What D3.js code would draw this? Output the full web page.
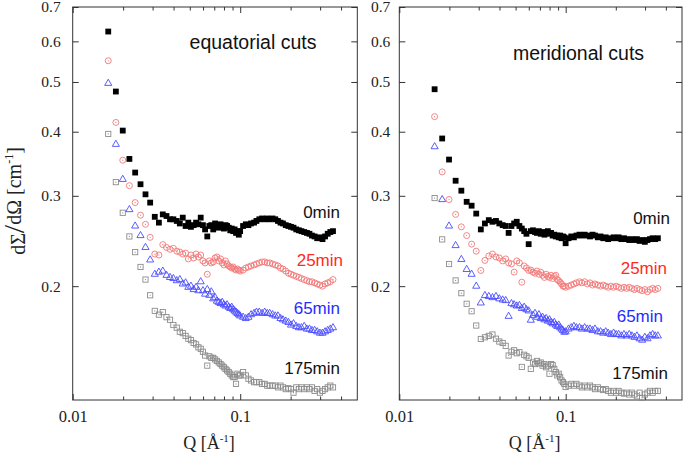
<!DOCTYPE html>
<html>
<head>
<meta charset="utf-8">
<script src="https://d3js.org/d3.v7.min.js"></script>
<style>
  body { margin: 0; background: #fff; }
  svg { display: block; background: #fff; }
</style>
</head>
<body>
<svg id="chart" width="685" height="461"></svg>
<script>
// shared Q grid (1/Angstrom)
const qValues = [
  0.0163, 0.0181, 0.0199, 0.0218, 0.0236, 0.0254, 0.0272, 0.0290, 0.0309, 0.0327,
  0.0345, 0.0363, 0.0381, 0.0399, 0.0418, 0.0436, 0.0454, 0.0472, 0.0490, 0.0508,
  0.0527, 0.0545, 0.0563, 0.0581, 0.0599, 0.0617, 0.0636, 0.0654, 0.0672, 0.0690,
  0.0708, 0.0726, 0.0745, 0.0763, 0.0781, 0.0799, 0.0817, 0.0835, 0.0854, 0.0872,
  0.0890, 0.0908, 0.0926, 0.0944, 0.0963, 0.0981, 0.0999,
  0.104, 0.108, 0.112, 0.116, 0.121, 0.125, 0.130, 0.135, 0.140, 0.145,
  0.150, 0.156, 0.162, 0.168, 0.174, 0.180, 0.187, 0.194, 0.201, 0.208,
  0.216, 0.224, 0.232, 0.241, 0.250, 0.259, 0.268, 0.278, 0.288, 0.299,
  0.310, 0.321, 0.333, 0.345, 0.358
];

// equatorial cuts
const eq0min = [
  0.627, 0.479, 0.402, 0.354, 0.333, 0.316, 0.302, 0.291, 0.273, 0.266,
  0.276, 0.274, 0.270, 0.270, 0.268, 0.265, 0.272, 0.262, 0.266, 0.261,
  0.263, 0.266, 0.264, 0.272, 0.263, 0.258, 0.250, 0.262, 0.263, 0.258,
  0.265, 0.262, 0.260, 0.264, 0.261, 0.259, 0.263, 0.262, 0.260, 0.257,
  0.259, 0.256, 0.258, 0.254, 0.256, 0.252, 0.256,
  0.262, 0.264, 0.263, 0.265, 0.266, 0.268, 0.270, 0.271, 0.270, 0.271,
  0.270, 0.271, 0.270, 0.268, 0.266, 0.265, 0.263, 0.262, 0.261, 0.260,
  0.258, 0.257, 0.256, 0.255, 0.254, 0.253, 0.251, 0.250, 0.248, 0.249,
  0.247, 0.250, 0.253, 0.255, 0.256
];
const eq25min = [
  0.550, 0.417, 0.352, 0.314, 0.291, 0.275, 0.264, 0.249, 0.231, 0.230,
  0.241, 0.238, 0.236, 0.237, 0.234, 0.233, 0.231, 0.232, 0.226, 0.230,
  0.227, 0.231, 0.228, 0.230, 0.224, 0.222, 0.211, 0.224, 0.222, 0.223,
  0.227, 0.228, 0.224, 0.226, 0.222, 0.220, 0.224, 0.221, 0.219, 0.218,
  0.217, 0.218, 0.216, 0.215, 0.216, 0.215, 0.214,
  0.215, 0.217, 0.218, 0.219, 0.220, 0.221, 0.222, 0.223, 0.223, 0.222,
  0.222, 0.221, 0.220, 0.219, 0.217, 0.216, 0.214, 0.212, 0.211, 0.210,
  0.209, 0.208, 0.207, 0.206, 0.205, 0.204, 0.204, 0.203, 0.202, 0.201,
  0.200, 0.202, 0.203, 0.204, 0.206
];
const eq65min = [
  0.497, 0.378, 0.323, 0.282, 0.262, 0.251, 0.238, 0.225, 0.211, 0.213,
  0.214, 0.210, 0.208, 0.207, 0.205, 0.206, 0.202, 0.203, 0.199, 0.200,
  0.197, 0.199, 0.196, 0.204, 0.196, 0.193, 0.197, 0.192, 0.195, 0.189,
  0.190, 0.187, 0.186, 0.185, 0.186, 0.184, 0.183, 0.184, 0.182, 0.181,
  0.182, 0.180, 0.179, 0.178, 0.177, 0.176, 0.175,
  0.174, 0.173, 0.174, 0.176, 0.177, 0.178, 0.178, 0.177, 0.178, 0.177,
  0.177, 0.176, 0.175, 0.175, 0.173, 0.172, 0.171, 0.170, 0.168, 0.169,
  0.167, 0.166, 0.166, 0.167, 0.165, 0.165, 0.164, 0.164, 0.163, 0.162,
  0.162, 0.163, 0.164, 0.165, 0.166
];
const eq175min = [
  0.396, 0.319, 0.278, 0.250, 0.233, 0.218, 0.206, 0.192, 0.179, 0.176,
  0.178, 0.174, 0.172, 0.168, 0.166, 0.163, 0.162, 0.160, 0.158, 0.157,
  0.155, 0.154, 0.152, 0.151, 0.149, 0.1465, 0.140, 0.146, 0.145, 0.145,
  0.144, 0.143, 0.142, 0.141, 0.140, 0.139, 0.138, 0.137, 0.136, 0.135,
  0.134, 0.133, 0.133, 0.129, 0.135, 0.134, 0.134,
  0.136, 0.134, 0.132, 0.131, 0.130, 0.130, 0.130, 0.129, 0.129, 0.128,
  0.128, 0.128, 0.128, 0.127, 0.128, 0.127, 0.126, 0.1265, 0.126, 0.124,
  0.127, 0.126, 0.127, 0.126, 0.127, 0.126, 0.127, 0.125, 0.126, 0.124,
  0.125, 0.126, 0.127, 0.128, 0.127
];

// meridional cuts
const mer0min = [
  0.484, 0.388, 0.353, 0.321, 0.307, 0.292, 0.287, 0.277, 0.258, 0.265,
  0.269, 0.267, 0.268, 0.265, 0.263, 0.262, 0.254, 0.262, 0.265, 0.267,
  0.262, 0.259, 0.256, 0.253, 0.2415, 0.256, 0.257, 0.255, 0.254, 0.256,
  0.253, 0.255, 0.252, 0.254, 0.256, 0.253, 0.254, 0.251, 0.252, 0.250,
  0.251, 0.249, 0.251, 0.248, 0.250, 0.249, 0.2425,
  0.248, 0.250, 0.249, 0.251, 0.252, 0.251, 0.252, 0.251, 0.250, 0.252,
  0.251, 0.249, 0.250, 0.248, 0.249, 0.247, 0.248, 0.249, 0.248, 0.249,
  0.247, 0.248, 0.247, 0.246, 0.247, 0.246, 0.247, 0.245, 0.246, 0.244,
  0.246, 0.247, 0.248, 0.247, 0.248
];
const mer25min = [
  0.428, 0.334, 0.295, 0.276, 0.261, 0.251, 0.2415, 0.234, 0.2146, 0.2245,
  0.229, 0.231, 0.228, 0.227, 0.224, 0.226, 0.222, 0.221, 0.213, 0.224,
  0.222, 0.2036, 0.219, 0.217, 0.2146, 0.215, 0.213, 0.212, 0.214, 0.211,
  0.213, 0.210, 0.208, 0.211, 0.209, 0.208, 0.210, 0.207, 0.209, 0.210,
  0.206, 0.205, 0.2036, 0.202, 0.200, 0.200, 0.199,
  0.200, 0.201, 0.202, 0.203, 0.204, 0.203, 0.204, 0.202, 0.203, 0.201,
  0.202, 0.201, 0.200, 0.201, 0.200, 0.199, 0.200, 0.199, 0.200, 0.199,
  0.198, 0.199, 0.198, 0.199, 0.198, 0.197, 0.198, 0.197, 0.196, 0.197,
  0.195, 0.197, 0.198, 0.197, 0.198
];
const mer65min = [
  0.374, 0.295, 0.262, 0.240, 0.2255, 0.2156, 0.211, 0.200, 0.1855, 0.1918,
  0.191, 0.190, 0.191, 0.189, 0.188, 0.1875, 0.1747, 0.185, 0.184, 0.183,
  0.1834, 0.181, 0.182, 0.180, 0.179, 0.1717, 0.1755, 0.177, 0.174, 0.176,
  0.173, 0.174, 0.172, 0.173, 0.171, 0.172, 0.170, 0.169, 0.170, 0.168,
  0.167, 0.168, 0.166, 0.165, 0.164, 0.1627, 0.163,
  0.165, 0.166, 0.167, 0.166, 0.166, 0.165, 0.166, 0.165, 0.165, 0.164,
  0.165, 0.163, 0.163, 0.162, 0.163, 0.162, 0.161, 0.162, 0.161, 0.161,
  0.160, 0.161, 0.160, 0.161, 0.160, 0.159, 0.160, 0.158, 0.157, 0.159,
  0.158, 0.160, 0.161, 0.160, 0.160
];
const mer175min = [
  0.297, 0.2467, 0.2209, 0.2052, 0.1938, 0.1848, 0.1787, 0.1676, 0.1578, 0.159,
  0.160, 0.161, 0.158, 0.156, 0.155, 0.153, 0.1465, 0.149, 0.150, 0.148,
  0.1487, 0.1392, 0.147, 0.146, 0.145, 0.138, 0.142, 0.141, 0.143, 0.1414,
  0.142, 0.140, 0.141, 0.139, 0.140, 0.135, 0.141, 0.1403, 0.138, 0.136,
  0.134, 0.135, 0.1329, 0.131, 0.130, 0.129, 0.1272,
  0.128, 0.129, 0.128, 0.129, 0.128, 0.127, 0.128, 0.127, 0.128, 0.127,
  0.126, 0.127, 0.126, 0.1255, 0.126, 0.125, 0.124, 0.125, 0.124, 0.125,
  0.124, 0.1235, 0.124, 0.123, 0.124, 0.123, 0.122, 0.124, 0.1211, 0.123,
  0.124, 0.125, 0.124, 0.125, 0.125
];

const seriesLabels = ['0min', '25min', '65min', '175min'];
const yTicks = [0.2, 0.3, 0.4, 0.5, 0.6, 0.7];
const xMajorTicks = [0.01, 0.1];
const xMinorTicks = [0.02, 0.03, 0.04, 0.05, 0.06, 0.07, 0.08, 0.09, 0.2, 0.3, 0.4];

const serif = '"Liberation Serif", "Times New Roman", serif';
const sans = '"Liberation Sans", Arial, Helvetica, sans-serif';

// marker + label colour for each series, same order as seriesLabels
const seriesStyles = [
  { shape: 'filledSquare', stroke: '#000', labelColor: '#111' },
  { shape: 'dotCircle', stroke: '#f27878', labelColor: '#ff2a1a' },
  { shape: 'triangle', stroke: '#4a4cff', labelColor: '#1f2dff' },
  { shape: 'dotSquare', stroke: '#8c8c8c', labelColor: '#111' }
];

class CutsPanel {
  /**
   * one log-log panel with four time series
   */
  constructor(_config, _data) {
    this.config = {
      parentElement: _config.parentElement,
      left: _config.left,
      top: _config.top,
      width: _config.width,
      height: _config.height,
      title: _config.title,
      titlePos: _config.titlePos,
      labelPos: _config.labelPos,
      yTickPadding: _config.yTickPadding,
      yLabel: _config.yLabel
    };
    this.data = _data;
    this.initVis();
  }

  initVis() {
    let vis = this;
    const c = vis.config;

    vis.svg = d3.select(c.parentElement);
    vis.chart = vis.svg.append('g')
      .attr('transform', `translate(${c.left},${c.top})`);

    vis.x = d3.scaleLog().domain([0.01, 0.5]).range([0, c.width]);
    vis.y = d3.scaleLog().domain([0.12, 0.7]).range([c.height, 0]);

    // y axis, labels on the left, ticks pointing inward
    vis.chart.append('g')
      .call(d3.axisLeft(vis.y).tickValues(yTicks).tickFormat(d => d)
        .tickSize(-6).tickPadding(c.yTickPadding))
      .call(g => g.select('.domain').remove())
      .call(g => g.selectAll('text').attr('font-family', serif).attr('font-size', 15.5).attr('fill', '#222'));

    vis.chart.append('g')
      .attr('transform', `translate(${c.width},0)`)
      .call(d3.axisRight(vis.y).tickValues(yTicks).tickFormat('').tickSize(-6))
      .call(g => g.select('.domain').remove());

    // x axis bottom: majors with labels, minors without
    vis.chart.append('g')
      .attr('transform', `translate(0,${c.height})`)
      .call(d3.axisBottom(vis.x).tickValues(xMajorTicks).tickFormat(d => d)
        .tickSize(-6).tickPadding(10))
      .call(g => g.select('.domain').remove())
      .call(g => g.selectAll('text').attr('font-family', serif).attr('font-size', 16.5).attr('fill', '#222'));

    vis.chart.append('g')
      .attr('transform', `translate(0,${c.height})`)
      .call(d3.axisBottom(vis.x).tickValues(xMinorTicks).tickFormat('').tickSize(-3.5))
      .call(g => g.select('.domain').remove());

    // same ticks along the top edge
    vis.chart.append('g')
      .call(d3.axisTop(vis.x).tickValues(xMajorTicks).tickFormat('').tickSize(-6))
      .call(g => g.select('.domain').remove());
    vis.chart.append('g')
      .call(d3.axisTop(vis.x).tickValues(xMinorTicks).tickFormat('').tickSize(-3.5))
      .call(g => g.select('.domain').remove());

    vis.chart.selectAll('.tick line').attr('stroke', '#333');

    // frame
    vis.chart.append('rect')
      .attr('width', c.width)
      .attr('height', c.height)
      .attr('fill', 'none')
      .attr('stroke', '#333')
      .attr('stroke-width', 1);

    // x axis title
    const xl = vis.chart.append('text')
      .attr('x', c.width / 2 - 6)
      .attr('y', c.height + 49)
      .attr('text-anchor', 'middle')
      .attr('font-family', serif)
      .attr('font-size', 18)
      .attr('fill', '#222');
    xl.append('tspan').text('Q [Å');
    xl.append('tspan').attr('dy', -7).attr('font-size', 11).text('-1');
    xl.append('tspan').attr('dy', 7).text(']');

    if (c.yLabel) {
      const yl = vis.svg.append('text')
        .attr('transform', 'translate(25,201) rotate(-90)')
        .attr('text-anchor', 'middle')
        .attr('font-family', serif)
        .attr('font-size', 20)
        .attr('fill', '#222');
      yl.append('tspan').text('dΣ');
      yl.append('tspan').attr('font-size', 30).attr('dy', -1).text('/');
      yl.append('tspan').attr('dy', -3).text('dΩ [cm');
      yl.append('tspan').attr('dy', -8).attr('font-size', 12).text('-1');
      yl.append('tspan').attr('dy', 8).text(']');
    }

    vis.chart.append('text')
      .attr('x', c.titlePos[0])
      .attr('y', c.titlePos[1])
      .attr('text-anchor', 'middle')
      .attr('font-family', sans)
      .attr('font-size', 19.5)
      .attr('fill', '#111')
      .text(c.title);

    vis.renderVis();
  }

  renderVis() {
    let vis = this;
    const c = vis.config;

    // draw the oldest run first so the 0min squares sit on top
    const order = [3, 2, 1, 0];
    order.forEach(i => {
      const style = seriesStyles[i];
      const points = qValues.map((q, j) => ({ q: q, v: vis.data[i][j] }))
        .filter(d => d.v !== undefined);

      const g = vis.chart.append('g').attr('class', 'series-' + seriesLabels[i]);
      const marks = g.selectAll('g.pt')
        .data(points)
        .join('g')
        .attr('class', 'pt')
        .attr('transform', d => `translate(${vis.x(d.q)},${vis.y(d.v)})`);

      if (style.shape === 'filledSquare') {
        marks.append('rect')
          .attr('x', -2.9).attr('y', -2.9)
          .attr('width', 5.8).attr('height', 5.8)
          .attr('fill', style.stroke);
      } else if (style.shape === 'dotCircle') {
        marks.append('circle').attr('r', 3)
          .attr('fill', 'none').attr('stroke', style.stroke).attr('stroke-width', 0.9);
        marks.append('circle').attr('r', 0.6).attr('fill', style.stroke);
      } else if (style.shape === 'triangle') {
        marks.append('path')
          .attr('d', d3.symbol(d3.symbolTriangle, 22)())
          .attr('fill', 'none').attr('stroke', style.stroke).attr('stroke-width', 0.9);
      } else {
        marks.append('rect')
          .attr('x', -2.6).attr('y', -2.6)
          .attr('width', 5.2).attr('height', 5.2)
          .attr('fill', 'none').attr('stroke', style.stroke).attr('stroke-width', 0.9);
        marks.append('circle').attr('r', 0.6).attr('fill', style.stroke);
      }

      // series label
      vis.chart.append('text')
        .attr('x', c.labelPos[i][0])
        .attr('y', c.labelPos[i][1])
        .attr('text-anchor', 'end')
        .attr('font-family', sans)
        .attr('font-size', 17)
        .attr('fill', style.labelColor)
        .text(seriesLabels[i]);
    });
  }
}

const equatorial = new CutsPanel({
  parentElement: '#chart',
  left: 72.7, top: 7, width: 284.6, height: 393,
  title: 'equatorial cuts',
  titlePos: [180.3, 42],
  labelPos: [[267.3, 211], [270.3, 259], [267.3, 307], [267.3, 367]],
  yTickPadding: 12,
  yLabel: true
}, [eq0min, eq25min, eq65min, eq175min]);

const meridional = new CutsPanel({
  parentElement: '#chart',
  left: 399.3, top: 7, width: 282.7, height: 393,
  title: 'meridional cuts',
  titlePos: [179.2, 53],
  labelPos: [[270.7, 217], [267.7, 267], [263.7, 315], [268.7, 372]],
  yTickPadding: 9,
  yLabel: false
}, [mer0min, mer25min, mer65min, mer175min]);
</script>
</body>
</html>
